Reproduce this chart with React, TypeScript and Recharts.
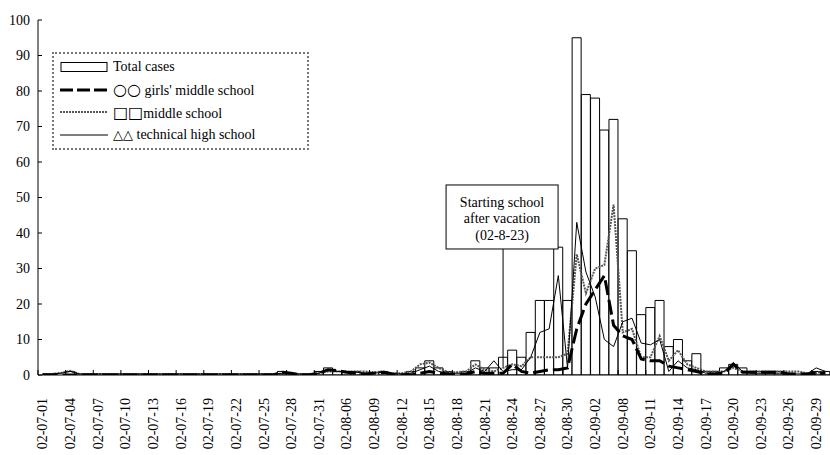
import React from 'react';
import { ComposedChart, Bar, Line, XAxis, YAxis, Legend, ReferenceLine } from 'recharts';

// dates on the category axis (some days are missing in the source)
const dates = [
  '02-07-01', '02-07-02', '02-07-03', '02-07-04', '02-07-05', '02-07-06', '02-07-07', '02-07-08', '02-07-09', '02-07-10',
  '02-07-11', '02-07-12', '02-07-13', '02-07-14', '02-07-15', '02-07-16', '02-07-17', '02-07-18', '02-07-19', '02-07-20',
  '02-07-21', '02-07-22', '02-07-23', '02-07-24', '02-07-25', '02-07-26', '02-07-27', '02-07-28', '02-07-29', '02-07-30',
  '02-07-31', '02-08-01', '02-08-05', '02-08-06', '02-08-07', '02-08-08', '02-08-09', '02-08-10', '02-08-11', '02-08-12',
  '02-08-13', '02-08-14', '02-08-15', '02-08-16', '02-08-17', '02-08-18', '02-08-19', '02-08-20', '02-08-21', '02-08-22',
  '02-08-23', '02-08-24', '02-08-25', '02-08-26', '02-08-27', '02-08-28', '02-08-29', '02-08-30', '02-08-31', '02-09-01',
  '02-09-02', '02-09-03', '02-09-05', '02-09-08', '02-09-09', '02-09-10', '02-09-11', '02-09-12', '02-09-13', '02-09-14',
  '02-09-15', '02-09-16', '02-09-17', '02-09-18', '02-09-19', '02-09-20', '02-09-21', '02-09-22', '02-09-23', '02-09-24',
  '02-09-25', '02-09-26', '02-09-27', '02-09-28', '02-09-29', '02-09-30',
];

const totalCases = [
  0, 0, 0, 1, 0, 0, 0, 0, 0, 0,
  0, 0, 0, 0, 0, 0, 0, 0, 0, 0,
  0, 0, 0, 0, 0, 0, 1, 0, 0, 0,
  1, 2, 1, 1, 1, 0, 0, 1, 0, 0,
  1, 2, 4, 2, 1, 0, 1, 4, 2, 2,
  5, 7, 5, 12, 21, 21, 36, 21, 95, 79,
  78, 69, 72, 44, 35, 17, 19, 21, 8, 10,
  4, 6, 1, 1, 2, 3, 2, 1, 1, 1,
  1, 0, 0, 0, 1, 1,
];

const girlsMiddle = [
  0, 0, 0, 0, 0, 0, 0, 0, 0, 0,
  0, 0, 0, 0, 0, 0, 0, 0, 0, 0,
  0, 0, 0, 0, 0, 0, 0.8, 0.5, 0, 0,
  0.5, 1.5, 1.2, 0.8, 0.5, 0.3, 0.5, 0.8, 0.3, 0,
  0, 0.5, 1, 0.5, 0.3, 0, 0.3, 1, 0.5, 0.5,
  0.5, 3, 1, 0.5, 1, 1.5, 1.5, 2, 13, 20,
  24, 28, 14, 11, 10, 4.5, 4, 4, 2.5, 2,
  1.5, 1, 0.3, 0.3, 0.5, 3, 0.8, 0.8, 0.8, 0.8,
  0.8, 0.3, 0.3, 0.3, 0.5, 0.5,
];

const middleSchool = [
  0.3, 0.3, 0.6, 1.2, 0.3, 0.3, 0.3, 0.3, 0.3, 0.3,
  0.3, 0.3, 0.3, 0.3, 0.3, 0.3, 0.3, 0.3, 0.3, 0.3,
  0.3, 0.3, 0.3, 0.3, 0.3, 0.3, 0.3, 0.3, 0.3, 0.3,
  0.5, 1, 1, 1, 1, 1, 0.8, 1, 0.5, 0.5,
  1, 3, 3.5, 2, 0.8, 0.8, 1, 3, 1.5, 1,
  2, 3, 2.5, 5, 5, 5, 5, 6, 34, 23,
  30, 31, 48, 12, 13, 5, 5, 11, 4, 7,
  3, 2, 1, 1, 1, 2, 1, 1, 1, 1,
  1, 1, 1, 0.5, 0.5, 1,
];

const technicalHigh = [
  0.3, 0.3, 0.5, 1, 0.3, 0.3, 0.3, 0.3, 0.3, 0.3,
  0.3, 0.3, 0.3, 0.3, 0.3, 0.3, 0.3, 0.3, 0.3, 0.3,
  0.3, 0.3, 0.3, 0.3, 0.3, 0.3, 0.5, 0.3, 0.3, 0.3,
  0.5, 1.5, 1, 1, 0.8, 0.5, 0.5, 0.8, 0.3, 0.3,
  0.5, 1.5, 2.5, 1, 0.5, 0.5, 0.5, 2, 1, 4,
  1, 1.5, 1.5, 5, 12, 13, 28, 2, 43, 29,
  22, 10, 8, 15, 16, 9, 8.5, 10, 1, 4,
  2, 1.5, 0.5, 0.5, 1, 3.5, 1, 0.5, 0.5, 0.5,
  0.5, 0.5, 0.3, 0.3, 2, 1,
];

const yTicks = [0, 10, 20, 30, 40, 50, 60, 70, 80, 90, 100];

const data = dates.map((d, i) => ({
  date: d,
  total: totalCases[i],
  girls: girlsMiddle[i],
  middle: middleSchool[i],
  technical: technicalHigh[i],
}));

const FONT = '"Liberation Serif", "Times New Roman", serif';
const SYMBOL_FONT = '"DejaVu Sans", sans-serif';
const W = 830;
const H = 455;
const PLOT_LEFT = 38;
const CAT_W = (W - PLOT_LEFT) / dates.length;
const MIDDLE_COLOR = '#555';

const XTick = (props: any) => {
  const { x, y, payload } = props;
  const axisY = y - 23;
  return (
    <g>
      <line x1={x - CAT_W / 2} y1={axisY} x2={x - CAT_W / 2} y2={axisY - 5} stroke="#000" />
      <text
        x={x}
        y={y}
        transform={`rotate(-90, ${x}, ${y})`}
        textAnchor="end"
        dy="0.35em"
        fontFamily={FONT}
        fontSize={14}
        fill="#000"
      >
        {payload.value}
      </text>
    </g>
  );
};

const YTick = (props: any) => {
  const { x, y, payload } = props;
  const axisX = x + 8;
  return (
    <g>
      <line x1={axisX} y1={y} x2={axisX + 4} y2={y} stroke="#000" />
      <text x={x} y={y} textAnchor="end" dy="0.35em" fontFamily={FONT} fontSize={14} fill="#000">
        {payload.value}
      </text>
    </g>
  );
};

const AnnotationLabel = (props: any) => {
  const { viewBox } = props;
  const cx = viewBox.x;
  const top = viewBox.y;
  return (
    <g>
      <rect x={cx - 57} y={top - 64} width={112} height={64} fill="#fff" stroke="#000" />
      <text x={cx - 1} y={top - 47} textAnchor="middle" dy="0.35em" fontFamily={FONT} fontSize={14}>
        Starting school
      </text>
      <text x={cx - 1} y={top - 31} textAnchor="middle" dy="0.35em" fontFamily={FONT} fontSize={14}>
        after vacation
      </text>
      <text x={cx - 1} y={top - 14} textAnchor="middle" dy="0.35em" fontFamily={FONT} fontSize={14}>
        (02-8-23)
      </text>
    </g>
  );
};

const legendItems = [
  { key: 'total', symbol: '', label: 'Total cases' },
  { key: 'girls', symbol: '○○', label: " girls' middle school" },
  { key: 'middle', symbol: '□□', label: 'middle school' },
  { key: 'technical', symbol: '△△', label: ' technical high school' },
];

const Swatch = ({ kind }: { kind: string }) => (
  <svg width={48} height={14} style={{ display: 'block' }}>
    {kind === 'total' && <rect x={1} y={2.5} width={46} height={9} fill="#fff" stroke="#000" />}
    {kind === 'girls' && <line x1={0} y1={7} x2={48} y2={7} stroke="#000" strokeWidth={3} strokeDasharray="13 4" />}
    {kind === 'middle' && <line x1={0} y1={7} x2={48} y2={7} stroke={MIDDLE_COLOR} strokeWidth={2} strokeDasharray="2 1" />}
    {kind === 'technical' && <line x1={0} y1={7} x2={48} y2={7} stroke="#000" strokeWidth={1} />}
  </svg>
);

const LegendBox = () => (
  <div
    style={{
      border: '2px dotted #777',
      padding: '2px 6px',
      width: 241,
      boxSizing: 'content-box',
      fontFamily: FONT,
      fontSize: 14,
      background: '#fff',
    }}
  >
    {legendItems.map((it) => (
      <div key={it.key} style={{ display: 'flex', alignItems: 'center', height: 22.6 }}>
        <Swatch kind={it.key} />
        <span style={{ marginLeft: 5, whiteSpace: 'pre' }}>
          {it.symbol && (
            <span style={{ fontFamily: SYMBOL_FONT, fontSize: it.key === 'technical' ? 13 : 16 }}>{it.symbol}</span>
          )}
          {it.label}
        </span>
      </div>
    ))}
  </div>
);

export default function App() {
  return (
    <div style={{ width: W, height: H, background: '#fff' }}>
      <style>{'body{margin:0;}'}</style>
      <ComposedChart
        width={W}
        height={H}
        data={data}
        margin={{ top: 20, right: 0, bottom: 5, left: 0 }}
        barCategoryGap={0}
      >
        <XAxis
          dataKey="date"
          interval={2}
          tick={<XTick />}
          tickLine={false}
          tickSize={4}
          tickMargin={19}
          height={75}
          axisLine={{ stroke: '#000' }}
        />
        <YAxis
          domain={[0, 100]}
          ticks={yTicks}
          width={PLOT_LEFT}
          tick={<YTick />}
          tickLine={false}
          tickSize={4}
          tickMargin={4}
          axisLine={{ stroke: '#000' }}
          allowDataOverflow
        />
        <Legend
          layout="vertical"
          align="center"
          verticalAlign="middle"
          content={<LegendBox />}
          wrapperStyle={{ left: 52, top: 52, width: 'auto' }}
        />
        <Bar dataKey="total" fill="#fff" stroke="#000" strokeWidth={1} isAnimationActive={false} />
        <Line type="linear" dataKey="middle" stroke={MIDDLE_COLOR} strokeWidth={2} strokeDasharray="2 1" dot={false} isAnimationActive={false} />
        <Line type="linear" dataKey="technical" stroke="#000" strokeWidth={1} dot={false} isAnimationActive={false} />
        <Line type="linear" dataKey="girls" stroke="#000" strokeWidth={3} strokeDasharray="15 5" dot={false} isAnimationActive={false} />
        <ReferenceLine
          segment={[{ x: '02-08-23', y: 2.3 }, { x: '02-08-23', y: 35.5 }]}
          stroke="#000"
          label={<AnnotationLabel />}
        />
      </ComposedChart>
    </div>
  );
}
